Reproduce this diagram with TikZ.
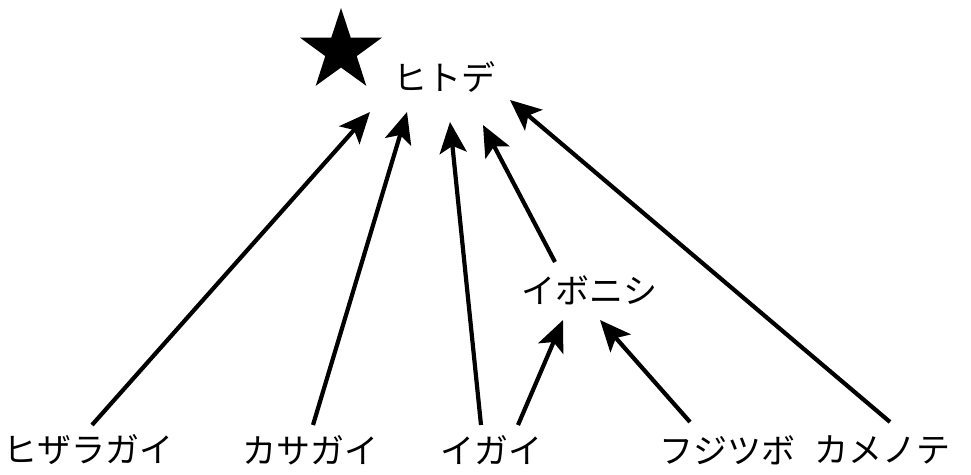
\documentclass[tikz,border=0pt]{standalone}
\usepackage{fontspec}
\setmainfont{Noto Sans CJK JP}
\usetikzlibrary{arrows.meta,shapes.geometric,calc}
\begin{document}
\begin{tikzpicture}[x=1pt,y=-1pt,
  lbl/.style={inner sep=0pt,font=\fontsize{34}{34}\selectfont},
  arr/.style={line width=4.2pt,-{Stealth[length=31pt,width=27pt,inset=7pt]}},
  starshape/.style={star,star points=5,star point ratio=2.6,fill=black,draw=none,minimum size=86pt,inner sep=0pt}]
\useasboundingbox (0,0) rectangle (971,474);
\node[starshape] (star) at (341,51) {};
\node[lbl] (hitode) at (444,77) {ヒトデ};
\node[lbl] (iboni) at (589,290) {イボニシ};
\node[lbl] (hiz) at (88,450) {ヒザラガイ};
\node[lbl] (kasa) at (310,450) {カサガイ};
\node[lbl] (igai) at (491,450) {イガイ};
\node[lbl] (fuji) at (727,450) {フジツボ};
\node[lbl] (kame) at (882,450) {カメノテ};
\draw[arr] ($(hiz)+(4,-25)$) -- ($(hitode)+(-74,35)$);
\draw[arr] ($(kasa)+(3,-25)$) -- ($(hitode)+(-37,35)$);
\draw[arr] ($(igai)+(-10,-25)$) -- ($(hitode)+(6,45)$);
\draw[arr] ($(igai)+(27,-25)$) -- ($(iboni)+(-26,30)$);
\draw[arr] ($(fuji)+(-37,-28)$) -- ($(iboni)+(11,30)$);
\draw[arr] ($(iboni)+(-34,-28)$) -- ($(hitode)+(39,48)$);
\draw[arr] ($(kame)+(8,-28)$) -- ($(hitode)+(66,23)$);
\end{tikzpicture}
\end{document}
